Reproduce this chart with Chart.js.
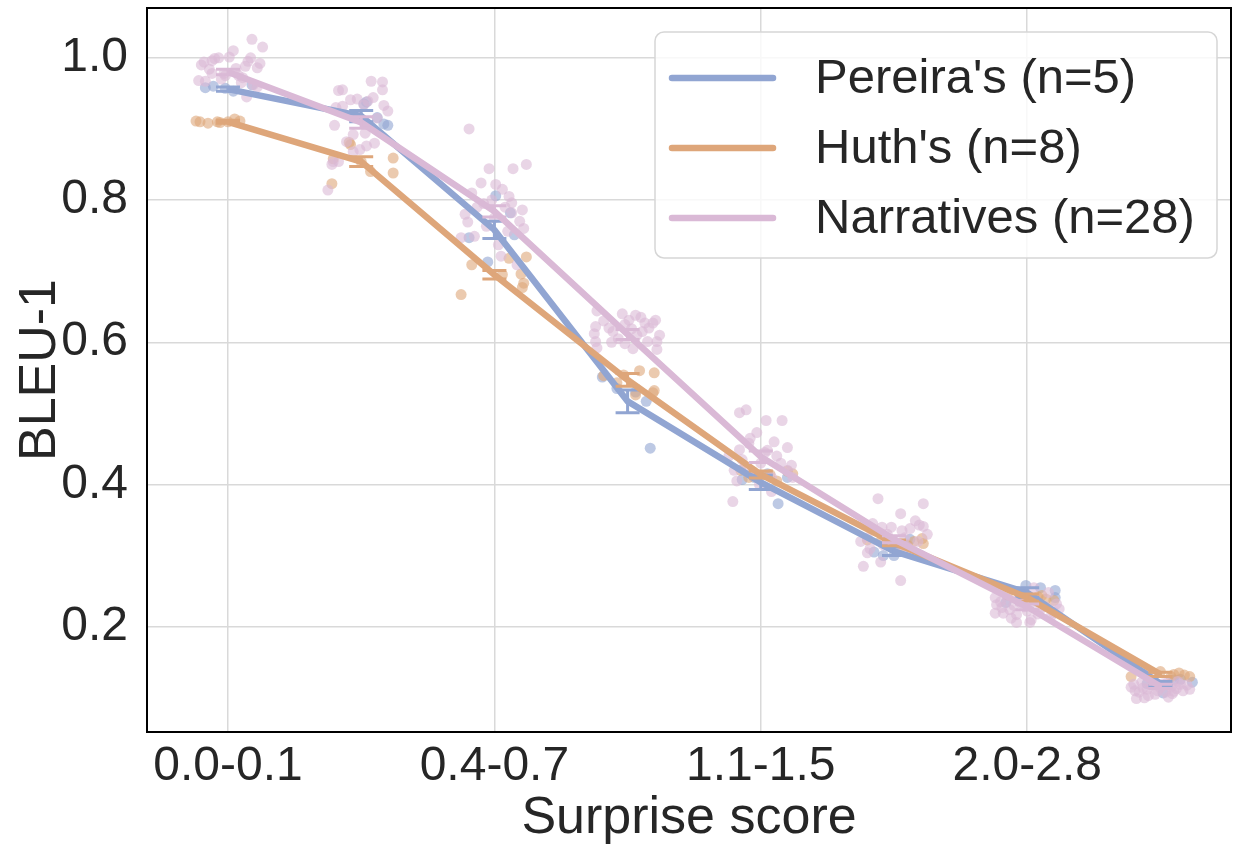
<!DOCTYPE html>
<html><head><meta charset="utf-8">
<script src="https://cdn.jsdelivr.net/npm/chart.js@4"></script>
<style>html,body{margin:0;padding:0;background:#fff}#wrap{width:1245px;height:846px}</style>
</head><body><div id="wrap"><canvas id="c" width="1245" height="846"></canvas></div>
<script>
// ---------- data ----------
const categories = [0, 1, 2, 3, 4, 5, 6, 7];
const tickCategories = [0, 2, 4, 6];
const tickLabels = ['0.0-0.1', '0.4-0.7', '1.1-1.5', '2.0-2.8'];
const seriesNames = ["Pereira's (n=5)", "Huth's (n=8)", "Narratives (n=28)"];

const pereiraMean = [0.956, 0.918, 0.758, 0.517, 0.403, 0.306, 0.248, 0.120];
const huthMean    = [0.910, 0.854, 0.695, 0.547, 0.414, 0.318, 0.241, 0.133];
const narrMean    = [0.980, 0.909, 0.784, 0.611, 0.439, 0.323, 0.228, 0.116];

const pereiraErr = [0.003, 0.008, 0.012, 0.016, 0.010, 0.006, 0.007, 0.003];
const huthErr    = [0.002, 0.007, 0.006, 0.009, 0.005, 0.004, 0.005, 0.003];
const narrErr    = [0.004, 0.008, 0.008, 0.007, 0.008, 0.005, 0.004, 0.003];

// individual subjects: per category, [jitter, value]
const pereiraPts = [
  [[-0.17,0.958],[-0.11,0.960],[0.04,0.953],[0.18,0.962],[-0.02,0.957]],
  [[0.02,0.935],[0.12,0.916],[0.17,0.907],[0.04,0.938],[0.20,0.905]],
  [[0.01,0.806],[0.12,0.782],[-0.19,0.747],[-0.05,0.713],[0.15,0.751]],
  [[-0.19,0.551],[0.14,0.517],[0.17,0.451],[-0.08,0.535],[0.06,0.530]],
  [[-0.14,0.407],[0.13,0.373],[0.05,0.415],[-0.05,0.410],[0.20,0.410]],
  [[-0.08,0.300],[0.12,0.323],[0.0,0.300],[-0.15,0.305],[0.20,0.300]],
  [[-0.01,0.258],[0.21,0.251],[0.21,0.241],[-0.16,0.234],[0.10,0.255]],
  [[0.24,0.122],[0.02,0.107],[-0.10,0.120],[0.10,0.125],[0.15,0.126]]
];
const huthPts = [
  [[-0.24,0.911],[-0.21,0.910],[-0.15,0.908],[-0.08,0.910],[-0.06,0.909],[0.05,0.914],[0.09,0.911],[0.0,0.910]],
  [[-0.09,0.881],[-0.08,0.878],[0.24,0.859],[0.24,0.838],[-0.22,0.823],[-0.21,0.858],[0.07,0.840],[0.0,0.854]],
  [[-0.17,0.709],[0.11,0.718],[0.24,0.720],[0.20,0.696],[0.22,0.683],[0.21,0.677],[-0.25,0.667],[0.06,0.695]],
  [[0.09,0.560],[0.20,0.557],[-0.03,0.554],[0.06,0.526],[0.20,0.532],[0.19,0.529],[-0.18,0.553],[-0.08,0.543]],
  [[-0.06,0.418],[0.0,0.413],[0.07,0.414],[0.20,0.419],[-0.09,0.410],[-0.15,0.420],[0.12,0.405],[0.24,0.415]],
  [[0.21,0.324],[0.22,0.317],[-0.10,0.320],[0.0,0.318],[0.10,0.315],[-0.20,0.322],[0.05,0.312],[0.15,0.320]],
  [[0.11,0.244],[0.14,0.239],[-0.05,0.240],[0.0,0.243],[0.05,0.238],[-0.15,0.245],[0.20,0.237],[0.08,0.242]],
  [[-0.22,0.130],[0.10,0.133],[0.14,0.135],[0.22,0.130],[0.08,0.130],[-0.10,0.135],[0.0,0.137],[0.18,0.132]]
];
const narrPts = [
  [[0.18,1.026],[0.04,1.010],[-0.07,1.000],[0.01,1.001],[-0.18,0.994],[-0.12,0.996],[-0.10,0.999],[0.17,1.000],[0.15,0.995],[0.13,0.988],[0.22,0.986],[-0.14,0.984],[-0.12,0.978],[-0.02,0.975],[-0.17,0.967],[0.11,0.972],[0.19,0.962],[0.14,0.945],[0.22,0.959],[-0.20,0.990],[0.06,0.985],[0.08,0.975],[-0.05,0.970],[0.26,1.015],[-0.22,0.968],[0.24,0.992],[-0.03,0.978],[0.10,0.965]],
  [[0.075,0.967],[0.16,0.966],[0.16,0.955],[-0.17,0.954],[-0.14,0.955],[-0.08,0.941],[-0.03,0.942],[0.09,0.944],[0.05,0.939],[0.17,0.933],[0.02,0.934],[-0.14,0.932],[-0.06,0.892],[0.03,0.894],[0.10,0.880],[0.04,0.876],[-0.01,0.871],[-0.06,0.868],[-0.11,0.882],[-0.21,0.854],[-0.17,0.854],[-0.22,0.850],[-0.25,0.814],[-0.19,0.930],[0.20,0.925],[-0.04,0.920],[0.12,0.915],[-0.20,0.905]],
  [[-0.19,0.900],[-0.04,0.844],[0.14,0.844],[0.24,0.850],[-0.10,0.824],[0.01,0.822],[0.06,0.815],[0.13,0.796],[0.21,0.786],[-0.13,0.790],[-0.20,0.769],[0.13,0.782],[-0.25,0.747],[-0.15,0.749],[-0.06,0.763],[0.03,0.737],[0.10,0.756],[0.05,0.721],[0.17,0.709],[-0.02,0.800],[0.08,0.790],[-0.17,0.810],[0.19,0.770],[0.0,0.775],[-0.08,0.795],[0.11,0.805],[-0.22,0.780],[0.22,0.760]],
  [[-0.23,0.644],[-0.04,0.640],[0.01,0.631],[0.06,0.638],[0.10,0.635],[0.13,0.627],[0.19,0.627],[0.21,0.631],[-0.24,0.622],[-0.14,0.620],[-0.25,0.612],[-0.11,0.615],[0.03,0.619],[0.11,0.615],[-0.24,0.601],[-0.02,0.598],[0.04,0.591],[0.15,0.601],[0.22,0.601],[0.22,0.590],[-0.23,0.592],[-0.07,0.605],[0.07,0.610],[-0.18,0.630],[0.16,0.620],[-0.02,0.625],[0.24,0.610],[-0.12,0.600]],
  [[-0.16,0.501],[-0.11,0.505],[0.04,0.490],[0.16,0.490],[-0.03,0.473],[-0.08,0.465],[-0.09,0.458],[0.20,0.452],[-0.16,0.449],[0.05,0.448],[0.23,0.427],[-0.21,0.376],[0.08,0.390],[-0.24,0.440],[-0.12,0.425],[0.0,0.430],[0.12,0.440],[0.20,0.420],[-0.05,0.415],[0.08,0.410],[-0.18,0.405],[0.15,0.430],[0.03,0.445],[-0.14,0.435],[0.24,0.410],[-0.01,0.400],[0.10,0.460],[-0.20,0.420]],
  [[-0.12,0.380],[0.22,0.373],[0.05,0.359],[0.16,0.349],[0.22,0.341],[0.19,0.343],[0.12,0.338],[-0.16,0.345],[-0.09,0.340],[-0.20,0.325],[-0.20,0.304],[-0.23,0.285],[-0.10,0.291],[0.05,0.265],[0.02,0.309],[-0.05,0.330],[0.08,0.325],[-0.14,0.335],[0.18,0.320],[0.0,0.318],[0.10,0.312],[-0.08,0.315],[0.25,0.330],[-0.25,0.320],[0.13,0.305],[-0.02,0.340],[0.06,0.335],[-0.18,0.310]],
  [[0.05,0.255],[0.16,0.248],[-0.24,0.241],[-0.23,0.231],[-0.19,0.227],[-0.24,0.219],[-0.18,0.219],[-0.13,0.224],[-0.08,0.217],[-0.08,0.206],[0.02,0.206],[0.03,0.210],[0.22,0.232],[-0.05,0.234],[-0.15,0.238],[-0.02,0.228],[0.10,0.225],[0.20,0.220],[-0.10,0.230],[0.06,0.235],[0.14,0.228],[-0.20,0.235],[0.0,0.222],[0.24,0.225],[-0.06,0.242],[0.18,0.215],[-0.12,0.212],[0.08,0.218]],
  [[-0.20,0.119],[-0.18,0.099],[-0.12,0.100],[-0.04,0.105],[0.06,0.101],[0.10,0.109],[0.15,0.119],[0.17,0.110],[-0.13,0.114],[0.0,0.114],[0.05,0.121],[-0.22,0.115],[-0.16,0.108],[-0.10,0.112],[-0.07,0.118],[-0.02,0.110],[0.02,0.120],[0.08,0.115],[0.12,0.113],[0.20,0.118],[0.22,0.112],[-0.14,0.122],[-0.05,0.125],[0.04,0.108],[0.13,0.123],[-0.19,0.110],[0.09,0.106],[-0.09,0.103]]
];

// ---------- styling ----------
const COLORS = ['rgb(145,165,210)', 'rgb(222,166,122)', 'rgb(218,185,214)'];
const PT_COLORS = ['rgba(145,165,210,0.6)', 'rgba(222,166,122,0.6)', 'rgba(218,185,214,0.6)'];
const FONT = "'Liberation Sans', Arial, sans-serif";
const TEXT = '#262626';

const means = [pereiraMean, huthMean, narrMean];
const errs = [pereiraErr, huthErr, narrErr];
const pts = [pereiraPts, huthPts, narrPts];

const lineSets = means.map((m, s) => ({
  type: 'line',
  label: seriesNames[s],
  data: categories.map((c, i) => ({ x: c, y: m[i] })),
  borderColor: COLORS[s],
  backgroundColor: COLORS[s],
  borderWidth: 6.5,
  pointRadius: 0,
  tension: 0,
  fill: false,
  order: 3 - s,
  errors: errs[s],
  isMeanLine: true
}));
const scatterSets = pts.map((p, s) => ({
  type: 'scatter',
  label: seriesNames[s] + ' subjects',
  data: p.flatMap((list, ci) => list.map(([j, v]) => ({ x: categories[ci] + j, y: v }))),
  backgroundColor: PT_COLORS[s],
  borderWidth: 0,
  pointRadius: 5.5,
  order: 10 - s
}));

const errorBarPlugin = {
  id: 'errorBars',
  afterDatasetDraw(chart, args) {
    const ds = chart.data.datasets[args.index];
    if (!ds.errors) return;
    const ctx = chart.ctx, xs = chart.scales.x, ys = chart.scales.y;
    ctx.save();
    ctx.strokeStyle = ds.borderColor;
    ctx.lineWidth = 3;
    ds.data.forEach((p, i) => {
      const e = ds.errors[i];
      const px = xs.getPixelForValue(p.x);
      const y1 = ys.getPixelForValue(p.y - e), y2 = ys.getPixelForValue(p.y + e);
      ctx.beginPath();
      ctx.moveTo(px, y1); ctx.lineTo(px, y2);
      ctx.moveTo(px - 12, y1); ctx.lineTo(px + 12, y1);
      ctx.moveTo(px - 12, y2); ctx.lineTo(px + 12, y2);
      ctx.stroke();
    });
    ctx.restore();
  }
};

const frameLegendPlugin = {
  id: 'frameLegend',
  afterDraw(chart) {
    const ctx = chart.ctx, a = chart.chartArea;
    ctx.save();
    ctx.strokeStyle = '#000';
    ctx.lineWidth = 2;
    ctx.strokeRect(a.left, a.top, a.right - a.left, a.bottom - a.top);
    const bx = a.right - 576, by = a.top + 24, bw = 562, bh = 226, r = 9;
    ctx.beginPath();
    ctx.roundRect(bx, by, bw, bh, r);
    ctx.fillStyle = 'rgba(255,255,255,0.8)';
    ctx.fill();
    ctx.strokeStyle = '#d6d6d6';
    ctx.lineWidth = 1.5;
    ctx.stroke();
    const lines = chart.data.datasets.filter(d => d.isMeanLine);
    ctx.font = '49px ' + FONT;
    ctx.textBaseline = 'middle';
    ctx.textAlign = 'left';
    lines.forEach((d, i) => {
      const cy = by + 46 + i * 70;
      ctx.beginPath();
      ctx.strokeStyle = d.borderColor;
      ctx.lineWidth = 6.5;
      ctx.lineCap = 'round';
      ctx.moveTo(bx + 17, cy); ctx.lineTo(bx + 118, cy);
      ctx.stroke();
      ctx.fillStyle = TEXT;
      ctx.fillText(d.label, bx + 160, cy + 1);
    });
    ctx.restore();
  }
};

new Chart(document.getElementById('c'), {
  data: { datasets: [...lineSets, ...scatterSets] },
  options: {
    responsive: false,
    animation: false,
    devicePixelRatio: 1,
    layout: { padding: { left: 0, right: 14, top: 8, bottom: 0 } },
    plugins: { legend: { display: false }, tooltip: { enabled: false } },
    scales: {
      x: {
        type: 'linear',
        min: -0.608, max: 7.53,
        afterBuildTicks: s => { s.ticks = tickCategories.map(v => ({ value: v })); },
        afterFit: s => { s.height = 114; s.paddingLeft = 0; s.paddingRight = 0; },
        ticks: {
          callback: v => tickLabels[tickCategories.indexOf(v)],
          font: { family: FONT, size: 48 },
          color: TEXT,
          padding: 6,
          maxRotation: 0,
          autoSkip: false
        },
        grid: { color: '#d9d9d9', lineWidth: 1.5, drawTicks: false },
        border: { display: false },
        title: {
          display: true, text: 'Surprise score',
          font: { family: FONT, size: 52, lineHeight: 1.05 },
          color: TEXT, padding: { top: 0, bottom: 0 }
        }
      },
      y: {
        type: 'linear',
        min: 0.052, max: 1.07,
        afterBuildTicks: s => { s.ticks = [0.2, 0.4, 0.6, 0.8, 1.0].map(v => ({ value: v })); },
        afterFit: s => { s.width = 147; s.paddingTop = 0; s.paddingBottom = 0; },
        ticks: {
          callback: v => v.toFixed(1),
          font: { family: FONT, size: 48 },
          color: TEXT,
          padding: 19
        },
        grid: { color: '#d9d9d9', lineWidth: 1.5, drawTicks: false },
        border: { display: false },
        title: {
          display: true, text: 'BLEU-1',
          font: { family: FONT, size: 52, lineHeight: 1.2 },
          color: TEXT, padding: { top: 9, bottom: 0 }
        }
      }
    }
  },
  plugins: [errorBarPlugin, frameLegendPlugin]
});
</script>
</body></html>
